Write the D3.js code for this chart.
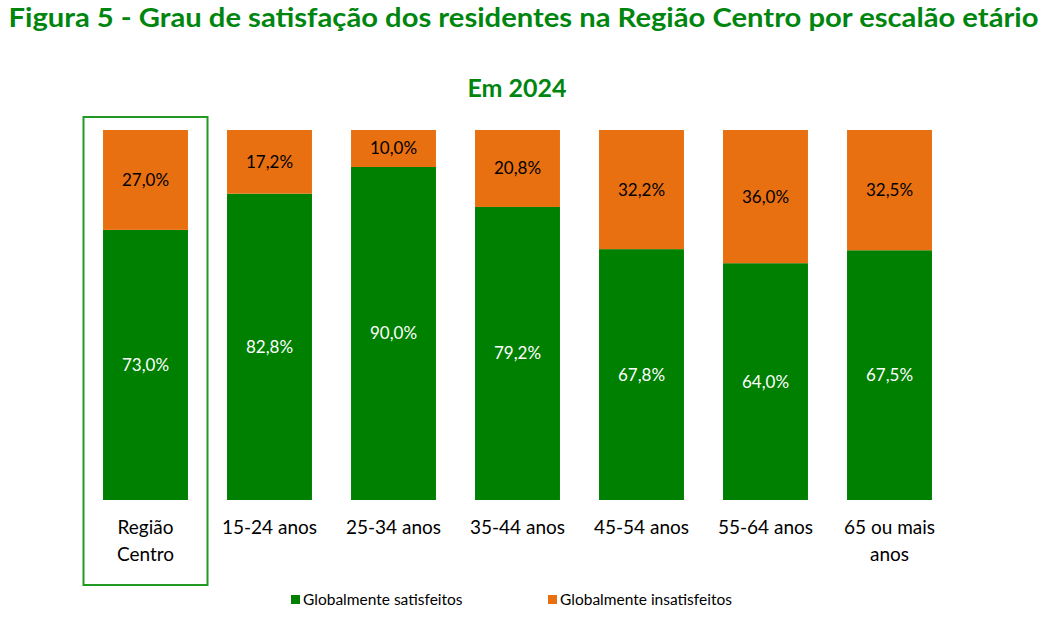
<!DOCTYPE html>
<html>
<head>
<meta charset="utf-8">
<script src="https://cdn.jsdelivr.net/npm/d3@7"></script>
<style>
  body { margin: 0; background: #fff; }
  svg { display: block; font-family: Lato, "Open Sans", sans-serif; }
</style>
</head>
<body>
<div id="frame"></div>
<script>
const width = 1047
const height = 640

const categories = ['Região Centro', '15-24 anos', '25-34 anos', '35-44 anos', '45-54 anos', '55-64 anos', '65 ou mais anos']
const categoryLines = [['Região', 'Centro'], ['15-24 anos'], ['25-34 anos'], ['35-44 anos'], ['45-54 anos'], ['55-64 anos'], ['65 ou mais', 'anos']]
const satisfied = [73.0, 82.8, 90.0, 79.2, 67.8, 64.0, 67.5]
const unsatisfied = [27.0, 17.2, 10.0, 20.8, 32.2, 36.0, 32.5]
const seriesNames = ['Globalmente satisfeitos', 'Globalmente insatisfeitos']

const green = '#008000'
const orange = '#E97011'
const titleGreen = '#00860F'

const svg = d3.select('#frame')
  .append('svg')
  .attr('width', width)
  .attr('height', height)

const x = d3.scaleBand()
  .domain(categories)
  .range([83.5, 951.5])
  .paddingInner(0.315)
  .paddingOuter(0.1575)

const y = d3.scaleLinear()
  .domain([0, 100])
  .range([500, 130])

const rows = categories.map((c, i) => ({ cat: c, sat: satisfied[i], ins: unsatisfied[i] }))

// title
svg.append('text')
  .attr('x', width / 2)
  .attr('y', 27)
  .attr('text-anchor', 'middle')
  .attr('fill', titleGreen)
  .attr('font-weight', 'bold')
  .attr('font-size', 26)
  .attr('textLength', 1030)
  .attr('lengthAdjust', 'spacingAndGlyphs')
  .text('Figura 5 - Grau de satisfação dos residentes na Região Centro por escalão etário')

svg.append('text')
  .attr('x', 517)
  .attr('y', 97)
  .attr('text-anchor', 'middle')
  .attr('fill', titleGreen)
  .attr('font-weight', 'bold')
  .attr('font-size', 25)
  .text('Em 2024')

// highlight box around first category
svg.append('rect')
  .attr('x', x.range()[0])
  .attr('y', 117)
  .attr('width', x.step())
  .attr('height', 468)
  .attr('fill', 'none')
  .attr('stroke', '#229A22')
  .attr('stroke-width', 2)

const g = svg.append('g')

g.selectAll('rect.sat')
  .data(rows)
  .join('rect')
  .attr('class', 'sat')
  .attr('x', d => x(d.cat))
  .attr('width', x.bandwidth())
  .attr('y', d => y(d.sat))
  .attr('height', d => y(0) - y(d.sat))
  .attr('fill', green)

g.selectAll('rect.ins')
  .data(rows)
  .join('rect')
  .attr('class', 'ins')
  .attr('x', d => x(d.cat))
  .attr('width', x.bandwidth())
  .attr('y', d => y(d.sat + d.ins))
  .attr('height', d => y(d.sat) - y(d.sat + d.ins))
  .attr('fill', orange)

const fmt = v => v.toFixed(1).replace('.', ',') + '%'

g.selectAll('text.satl')
  .data(rows)
  .join('text')
  .attr('class', 'satl')
  .attr('x', d => x(d.cat) + x.bandwidth() / 2)
  .attr('y', d => y(d.sat / 2))
  .attr('dy', '0.35em')
  .attr('text-anchor', 'middle')
  .attr('fill', '#fff')
  .attr('font-size', 17)
  .text(d => fmt(d.sat))

g.selectAll('text.insl')
  .data(rows)
  .join('text')
  .attr('class', 'insl')
  .attr('x', d => x(d.cat) + x.bandwidth() / 2)
  .attr('y', d => y(d.sat + d.ins / 2))
  .attr('dy', '0.35em')
  .attr('text-anchor', 'middle')
  .attr('fill', '#000')
  .attr('font-size', 17)
  .text(d => fmt(d.ins))

// category labels
const labels = svg.selectAll('text.cat')
  .data(categories)
  .join('text')
  .attr('class', 'cat')
  .attr('text-anchor', 'middle')
  .attr('font-size', 19)
  .attr('fill', '#000')

labels.each(function(c, i) {
  const t = d3.select(this)
  categoryLines[i].forEach((line, j) => {
    t.append('tspan')
      .attr('x', x(c) + x.bandwidth() / 2)
      .attr('y', 534 + j * 27)
      .text(line)
  })
})

// legend
const legend = svg.append('g')
const legendX = [291, 548]
const colors = [green, orange]
seriesNames.forEach((name, i) => {
  legend.append('rect')
    .attr('x', legendX[i])
    .attr('y', 595)
    .attr('width', 9)
    .attr('height', 9)
    .attr('fill', colors[i])
  legend.append('text')
    .attr('x', legendX[i] + 12)
    .attr('y', 605)
    .attr('font-size', 15.5)
    .attr('fill', '#000')
    .text(name)
})
</script>
</body>
</html>
